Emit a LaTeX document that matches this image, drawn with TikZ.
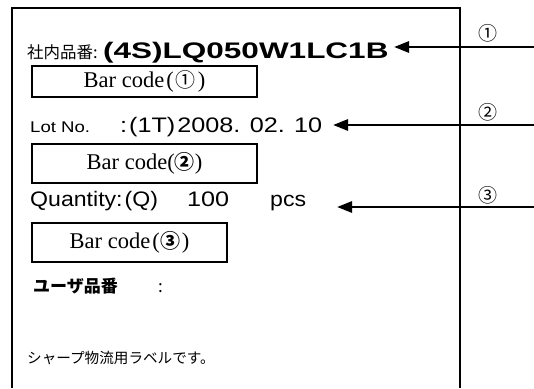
\documentclass[tikz,border=0pt]{standalone}
\usepackage{fontspec}
\setmainfont{Liberation Serif}
\newfontfamily\jp{Noto Sans CJK JP}
\newfontfamily\latw[FakeStretch=1.2]{Liberation Sans}
\newfontfamily\latq[FakeStretch=1.1]{Liberation Sans}
\newfontfamily\bigf[FakeStretch=1.4]{Liberation Sans}
\usetikzlibrary{arrows.meta}
\begin{document}
\begin{tikzpicture}[x=1pt,y=-1pt,
  txt/.style={inner sep=0pt,anchor=base west},
  bcbox/.style={draw,line width=1.2pt,inner sep=0pt,font=\fontsize{22.5}{22.5}\selectfont},
  ptr/.style={line width=2.8pt,-{Triangle[length=15pt,width=11pt]}},
  num/.style={inner sep=0pt,font=\jp\fontsize{19}{19}\selectfont}]
\useasboundingbox (0,0) rectangle (534,388);
\fill[white] (0,0) rectangle (534,388);
\draw[line width=1.5pt] (12,388) -- (12,8) -- (460,8) -- (460,388);
% line 1
\node[txt,font=\jp\fontsize{16.5}{16.5}\selectfont] (l1a) at (27,58) {社内品番:};
\node[txt,font=\bigf\bfseries\fontsize{22.5}{22.5}\selectfont] (l1b) at (103,58) {(4S)LQ050W1LC1B};
\node[bcbox,minimum width=225pt,minimum height=31pt] (bc1) at (144.5,81.5) {Bar code\hspace{2pt}(\hspace{2pt}{\jp\fontsize{20}{20}\selectfont ①}\hspace{2pt})};
% line 2
\node[txt,font=\latw\fontsize{15.5}{15.5}\selectfont] (l2a) at (30,132) {Lot No.};
\node[txt,font=\latw\fontsize{21}{21}\selectfont] (l2b) at (120,132) {:\hspace{2pt}(1T)\hspace{2pt}2008. 02. 10};
\node[bcbox,minimum width=225pt,minimum height=39pt] (bc2) at (144.5,163.5) {Bar code({\jp\bfseries\fontsize{20}{20}\selectfont ②})};
% line 3
\node[txt,font=\latq\fontsize{21}{21}\selectfont] (l3a) at (30,206) {Quantity:\hspace{2pt}(Q)};
\node[txt,font=\latw\fontsize{21}{21}\selectfont] (l3b) at (187,206) {100};
\node[txt,font=\latq\fontsize{21}{21}\selectfont] (l3c) at (270,206) {pcs};
\node[bcbox,minimum width=195pt,minimum height=39pt] (bc3) at (129.5,242.5) {Bar code\hspace{2pt}(\hspace{1pt}{\jp\bfseries\fontsize{20}{20}\selectfont ③}\hspace{1pt})};
% bottom texts
\node[txt,font=\jp\bfseries\fontsize{17}{17}\selectfont] (l4a) at (33,292) {ユーザ品番};
\node[txt,font=\jp\fontsize{17}{17}\selectfont] (l4b) at (158,292) {:};
\node[txt,font=\jp\fontsize{14.6}{14.6}\selectfont] (l5) at (27,363) {シャープ物流用ラベルです。};
% numbers
\node[num] (n1) at (488,33) {①};
\node[num] (n2) at (488,112) {②};
\node[num] (n3) at (488,195) {③};
% arrows
\coordinate (e1) at (534,47);
\coordinate (e2) at (534,125);
\coordinate (e3) at (534,207);
\coordinate (t1) at (394,47);
\coordinate (t2) at (333,125);
\coordinate (t3) at (337,207);
\draw[ptr] (e1) -- (t1);
\draw[ptr] (e2) -- (t2);
\draw[ptr] (e3) -- (t3);
\end{tikzpicture}
\end{document}
